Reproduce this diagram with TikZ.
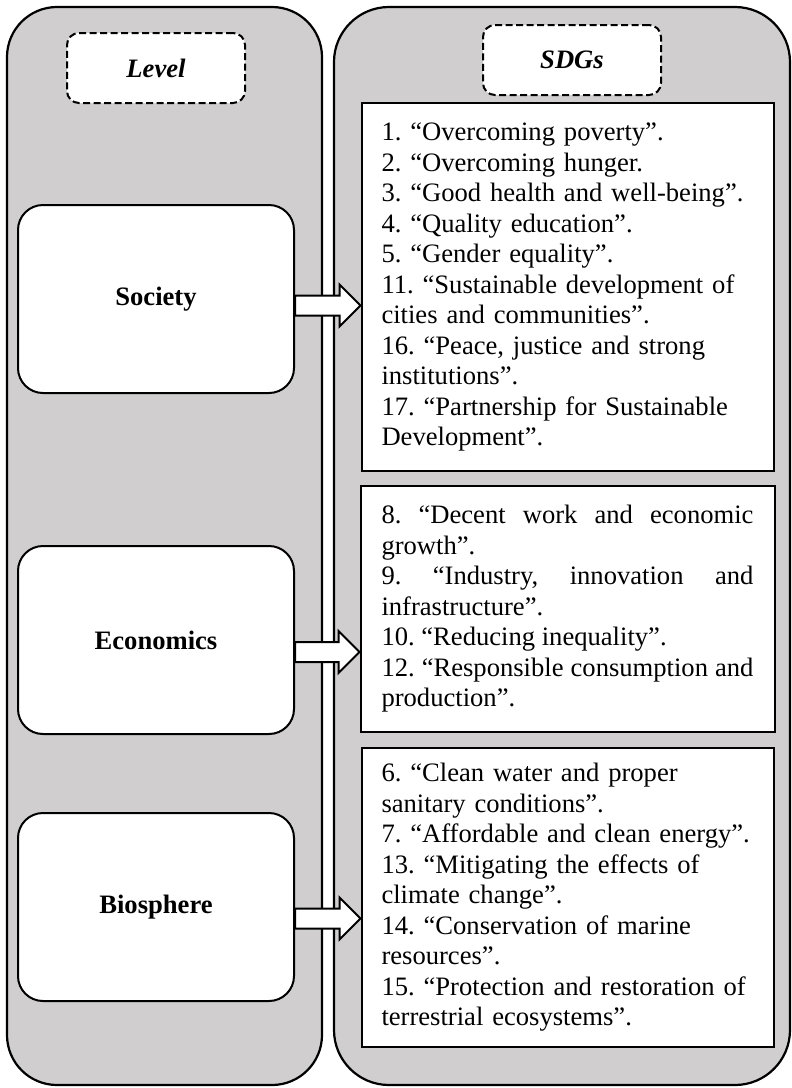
\documentclass[tikz,border=0pt]{standalone}
\usepackage{fontspec}
\setmainfont{Liberation Serif}
\usetikzlibrary{positioning,calc}
\definecolor{panelgray}{RGB}{208,206,207}
\frenchspacing
\tolerance=9999
\hyphenpenalty=10000

\begin{document}
\begin{tikzpicture}[x=0.5pt,y=-0.5pt,font=\fontsize{13.3}{15.25}\selectfont]
  \tikzstyle{panel}=[draw,fill=panelgray,line width=1.1pt]
  \tikzstyle{tag}=[draw,fill=white,line width=1pt,dash pattern=on 3.5pt off 1.75pt,rounded corners=6pt,minimum width=89pt,minimum height=35pt,font=\fontsize{13.3}{15.25}\selectfont\bfseries\itshape]
  \tikzstyle{level}=[draw,fill=white,line width=1pt,rounded corners=12.5pt,minimum width=138pt,minimum height=94pt,font=\fontsize{13.3}{15.25}\selectfont\bfseries]
  \tikzstyle{sdg}=[draw,fill=white,line width=1pt,text width=186pt,inner xsep=10pt,align=left]
  \tikzstyle{arrowbox}=[draw,fill=white,line width=1pt]
  \useasboundingbox (0,0) rectangle (792,1088);
  \draw[panel,rounded corners=25pt] (7,7) rectangle (322,1085);
  \draw[panel,rounded corners=27.5pt] (334,7) rectangle (790,1085);
  \node[tag] (levelhead) at (156,68) {Level};
  \node[tag] (sdghead) at (572,60) {SDGs};
  \node[level,below=50pt of levelhead] (society) {Society};
  \node[level,below=75.5pt of society] (economics) {Economics};
  \node[level,below=38.5pt of economics] (biosphere) {Biosphere};
  \node[sdg,minimum width=205.5pt,minimum height=184pt] (sdgsoc) at (567.5,287)
    {1. “Overcoming poverty”.\\ 2. “Overcoming hunger.\\ 3. “Good health and well-being”.\\
     4. “Quality education”.\\ 5. “Gender equality”.\\ 11. “Sustainable development of\\
     cities and communities”.\\ 16. “Peace, justice and strong\\ institutions”.\\
     17. “Partnership for Sustainable\\ Development”.};
  \node[sdg,align=justify,minimum width=207pt,minimum height=123pt,below=6.5pt of sdgsoc] (sdgeco)
    {8. “Decent work and economic growth”.\\ 9. “Industry, innovation and infrastructure”.\\
     10. “Reducing inequality”.\\ 12. “Responsible consumption and production”.};
  \node[sdg,minimum width=206pt,minimum height=149.5pt,below=7pt of sdgeco] (sdgbio)
    {6. “Clean water and proper\\ sanitary conditions”.\\ 7. “Affordable and clean energy”.\\
     13. “Mitigating the effects of\\ climate change”.\\ 14. “Conservation of marine\\
     resources”.\\ 15. “Protection and restoration of\\ terrestrial ecosystems”.};
  \foreach \a/\b/\d in {society/sdgsoc/-3.25pt,economics/sdgeco/-6pt,biosphere/sdgbio/-5.75pt} {
    \coordinate (t) at ([yshift=\d]\a.east);
    \coordinate (p) at (t -| \b.west);
    \draw[arrowbox] ($(t)+(0,-10)$) -- ($(p)+(-21,-10)$) -- ($(p)+(-21,-21)$) -- (p)
      -- ($(p)+(-21,21)$) -- ($(p)+(-21,10)$) -- ($(t)+(0,10)$) -- cycle;
  }
\end{tikzpicture}
\end{document}
